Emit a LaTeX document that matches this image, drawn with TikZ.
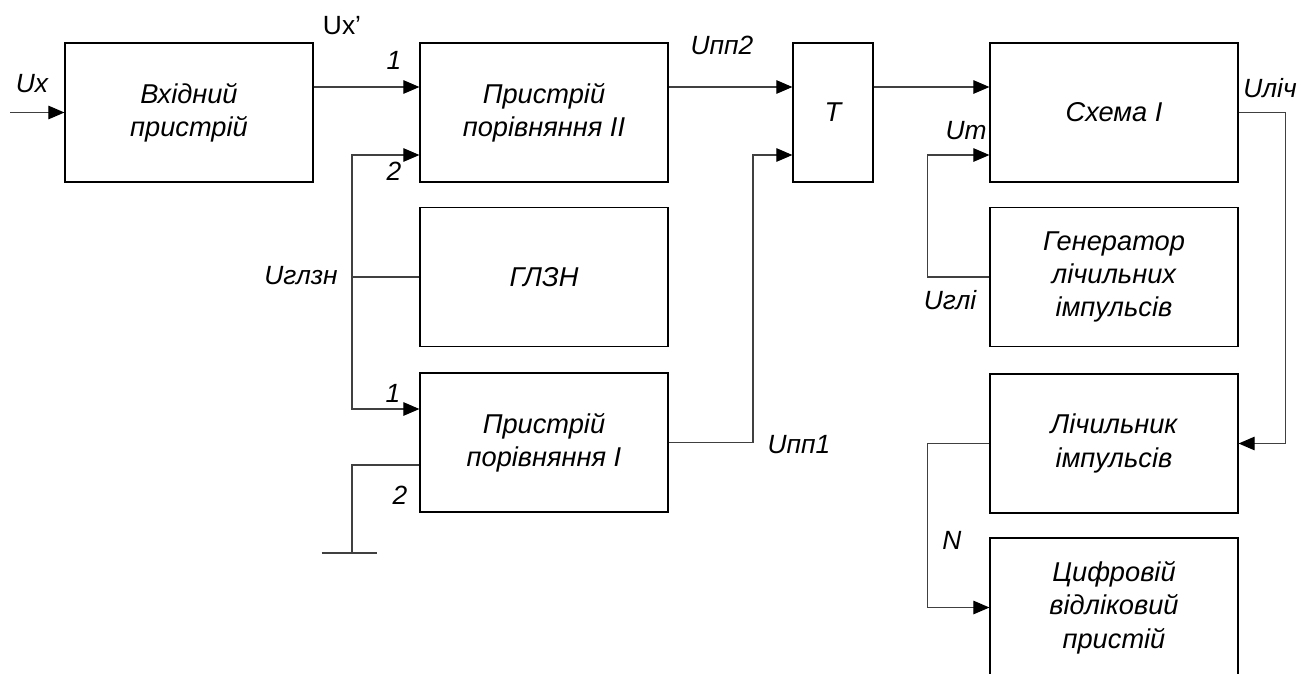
\documentclass[tikz,border=0pt]{standalone}
\usepackage{fontspec}
\setmainfont{Liberation Sans}
\usetikzlibrary{arrows.meta}
\newcommand\blkfont{\fontsize{15.5}{19}\selectfont\itshape}
\newcommand\sigfont{\fontsize{15}{18}\selectfont\itshape}
\tikzset{
  >={Triangle[length=3.2mm,width=2.7mm,color=black]},
  blk/.style={draw=black,line width=0.7pt,minimum width=4.96cm,minimum height=2.78cm,
    align=center,font=\blkfont,inner sep=2pt},
  wire/.style={draw=black!75,line width=0.6pt},
  lbl/.style={font=\sigfont,inner sep=0pt},
}

\begin{document}
\begin{tikzpicture}[x=0.02cm,y=-0.02cm]
  \useasboundingbox (0,0) rectangle (1301,673);
  % blocks
  \node[blk] (inp) at (189,112.5) {Вхідний\\пристрій};
  \node[blk] (cmp2) at (544,112.5) {Пристрій\\порівняння II};
  \node[blk,minimum width=1.6cm] (trig) at (833,112.5) {T};
  \node[blk] (sch) at (1114,112.5) {Схема I};
  \node[blk] (glzn) at (544,277) {ГЛЗН};
  \node[blk] (gen) at (1114,277) {Генератор\\лічильних\\імпульсів};
  \node[blk] (cmp1) at (544,442.5) {Пристрій\\порівняння I};
  \node[blk] (cnt) at (1114,443.5) {Лічильник\\імпульсів};
  \node[blk] (dig) at (1114,607.5) {Цифровій\\відліковий\\пристій};
  % helper points
  \coordinate (uin) at (10,112.5);
  \coordinate (bus) at (352,277);
  \coordinate (gnd) at (352,553);
  \coordinate (j1) at (753,155);
  % left part
  \draw[wire,->] (uin) -- (inp);
  \draw[wire,->] (inp.east |- 0,87) -- (cmp2.west |- 0,87);
  \draw[wire] (glzn) -- (bus);
  \draw[wire,->] (bus) |- (cmp2.west |- 0,155);
  \draw[wire,->] (bus) |- (cmp1.west |- 0,409);
  \draw[wire] (cmp1.west |- 0,465) -| (gnd);
  \draw[wire] ([xshift=-0.61cm]gnd) -- ([xshift=0.5cm]gnd);
  \draw[wire,->] (cmp2.east |- 0,87) -- (trig.west |- 0,87);
  \draw[wire,->] (cmp1.east) -| (j1) -- (trig.west |- j1);
  % right part
  \draw[wire,->] (trig.east |- 0,87) -- (sch.west |- 0,87);
  \draw[wire,->] (sch.east) -- ++(47,0) |- (cnt.east);
  \draw[wire,->] (gen.west) -- ++(-62,0) |- (sch.west |- 0,155);
  \draw[wire,->] (cnt.west) -- ++(-62,0) |- (dig.west);
  % signal labels
  \foreach \n/\t/\x/\y in {ux/Ux/32/84, in21/1/394/60, in22/2/394/171, upp2/Uпп2/722/45,
      ut/Uт/966/131, ulich/Uліч/1270/88, uglzn/Uглзн/301/276, ugli/Uглі/950/300,
      in11/1/393/393, in12/2/400/495, upp1/Uпп1/799/445, nn/N/952/540}
    \node[lbl] (\n) at (\x,\y) {\t};
  \node[lbl,font=\fontsize{15}{18}\selectfont] (uxp) at (342,26) {Ux’};
\end{tikzpicture}
\end{document}
